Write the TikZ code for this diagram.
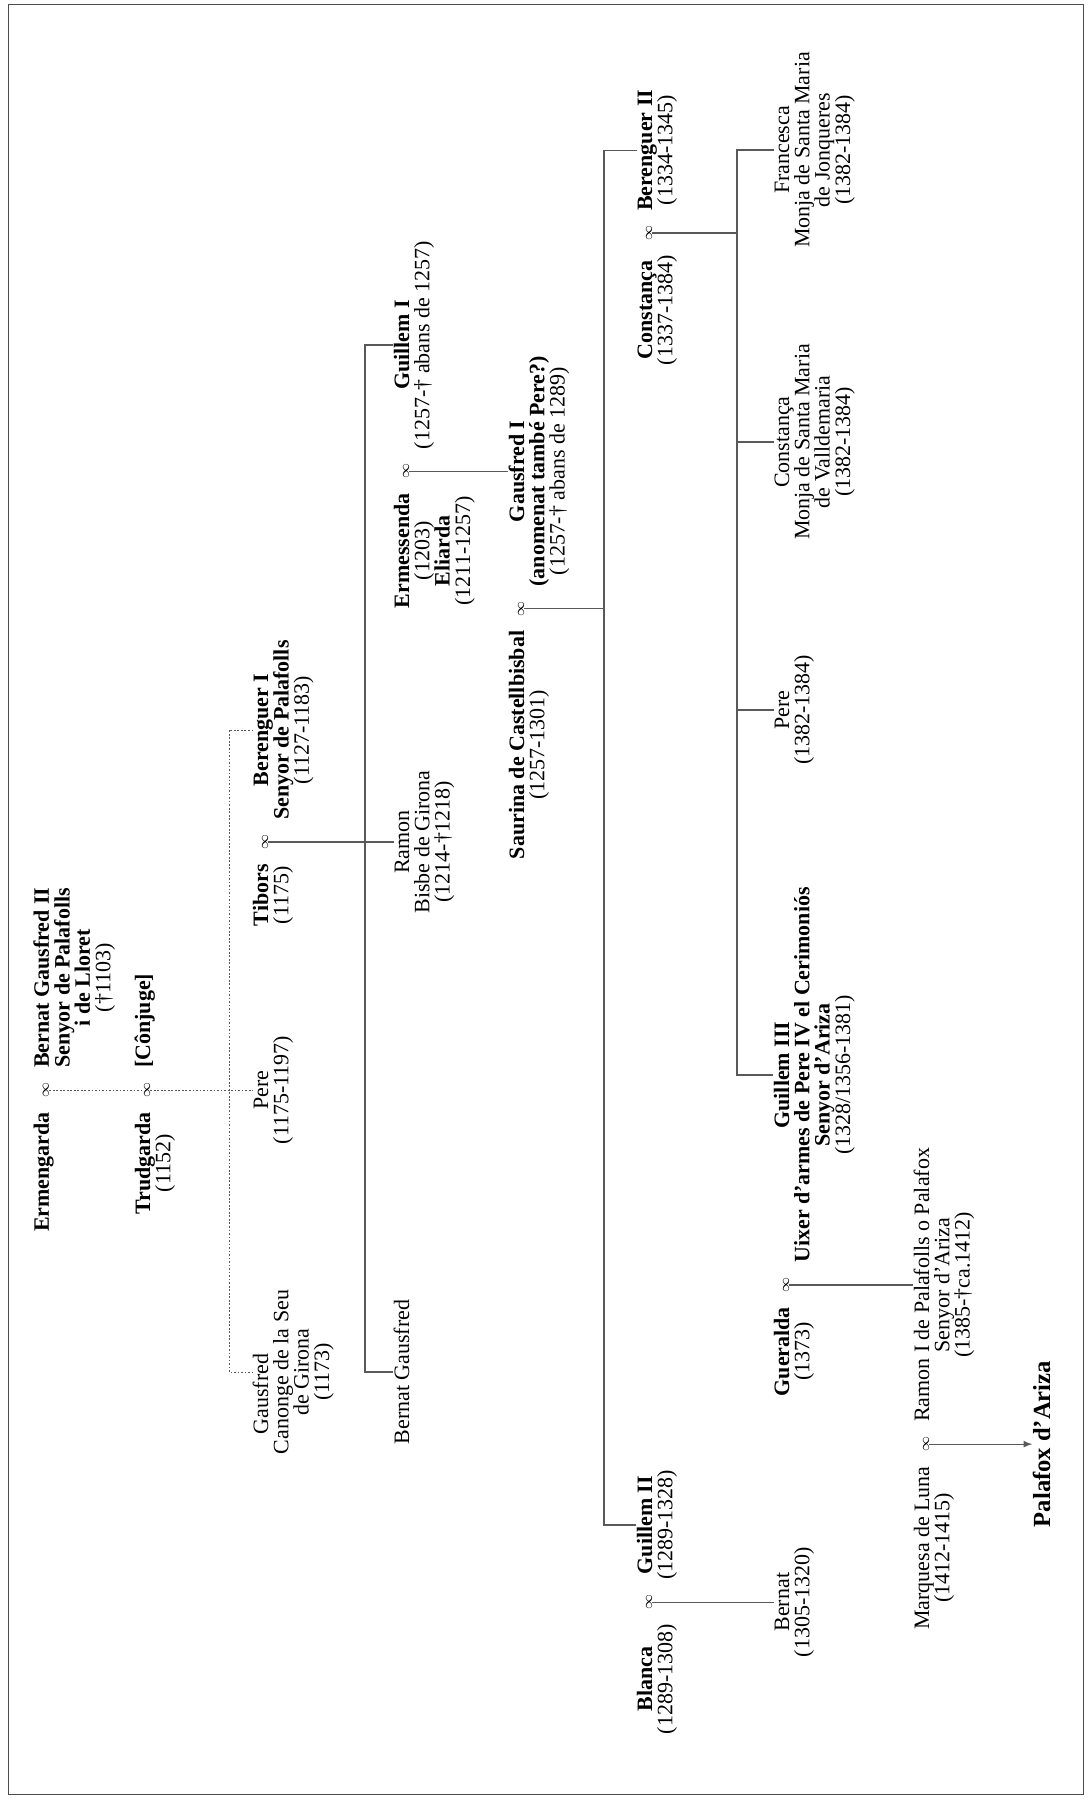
\documentclass[tikz,border=0pt]{standalone}
\usepackage{fontspec}
\setmainfont{Liberation Serif}
\newcommand{\blk}[1]{\begin{tabular}[t]{@{}c@{}}#1\end{tabular}}
\renewcommand{\arraystretch}{0.85}
\begin{document}
\begin{tikzpicture}[x=0.2mm,y=-0.2mm,
  nm/.style={rotate=90,inner xsep=3pt,inner ysep=0pt,font=\fontsize{12.5}{11.4}\selectfont},
  mar/.style={rotate=90,anchor=base,inner xsep=5pt,inner ysep=0pt,font=\fontsize{8}{9}\selectfont},
  ln/.style={black!65,line width=0.7pt},
  dl/.style={black!65,line width=0.5pt,dash pattern=on 1pt off 1pt}]
  \useasboundingbox (0,0) rectangle (1089,1800);
  \draw[black!70,line width=0.5pt] (8,4) rectangle (1083,1794);
  \coordinate (rowB) at (150,0);
  \coordinate (rowC) at (268,0);
  \coordinate (rowD) at (409,0);
  \coordinate (rowE) at (524,0);
  \coordinate (rowG) at (789,0);
  \coordinate (rowH) at (929,0);
  \coordinate (rowI) at (1050,0);
  \coordinate (brC) at (229,0);
  \coordinate (brD) at (365,0);
  \coordinate (brE) at (604,0);
  \coordinate (brF) at (737,0);

  \node (m1) at (49,1090) [mar] {$\infty$};
  \node (bg2) at (m1.base east) [nm,anchor=base west] {\blk{\textbf{Bernat Gausfred II}\\\textbf{Senyor de Palafolls}\\\textbf{i de Lloret}\\(†1103)}};
  \node (erm) at (m1.base west) [nm,anchor=base east] {\textbf{Ermengarda}};

  \node (m2) at (m1.base -| rowB) [mar] {$\infty$};
  \node (cnj) at (m2.base east) [nm,anchor=base west] {\textbf{[Cônjuge]}};
  \node (trud) at (m2.base west) [nm,anchor=base east] {\blk{\textbf{Trudgarda}\\(1152)}};

  \node (pere) at (m2.base -| rowC) [nm,anchor=base] {\blk{Pere\\(1175-1197)}};
  \node (m3) at (268,842) [mar] {$\infty$};
  \node (ber1) at (m3.base east) [nm,anchor=base west] {\blk{\textbf{Berenguer I}\\\textbf{Senyor de Palafolls}\\(1127-1183)}};
  \node (tib) at (m3.base west) [nm,anchor=base east] {\blk{\textbf{Tibors}\\(1175)}};
  \node (gsf) at (268,1372) [nm,anchor=base] {\blk{Gausfred\hspace*{2em}\\Canonge de la Seu\\de Girona\\(1173)}};

  \node (ram) at (m3.base -| rowD) [nm,anchor=base] {\blk{Ramon\\Bisbe de Girona\\(1214-†1218)}};
  \node (gui1) at (409,345) [nm,anchor=base] {\blk{\textbf{Guillem I}\\(1257-† abans de 1257)}};
  \node (m4) at (gui1.base west) [mar,anchor=base east] {$\infty$};
  \node (ermes) at (m4.base west) [nm,anchor=base east] {\blk{\textbf{Ermessenda}\\(1203)\\\textbf{Eliarda}\\(1211-1257)}};
  \node (bgf) at (409,1372) [nm,anchor=base] {Bernat Gausfred};

  \node (gf1) at (m4.base -| rowE) [nm,anchor=base] {\blk{\textbf{Gausfred I}\\\textbf{(anomenat també Pere?)}\\(1257-† abans de 1289)}};
  \node (m5) at (gf1.base west) [mar,anchor=base east] {$\infty$};
  \node (sau) at (m5.base west) [nm,anchor=base east] {\blk{\textbf{Saurina de Castellbisbal}\\(1257-1301)}};

  \node (m6) at (652,233) [mar] {$\infty$};
  \node (ber2) at (m6.base east) [nm,anchor=base west] {\blk{\textbf{Berenguer II}\\(1334-1345)}};
  \node (cst) at (m6.base west) [nm,anchor=base east] {\blk{\textbf{Constança}\\(1337-1384)}};
  \node (gui2) at (652,1525) [nm,anchor=base] {\blk{\textbf{Guillem II}\\(1289-1328)}};
  \node (m7) at (gui2.base west) [mar,anchor=base east] {$\infty$};
  \node (bla) at (m7.base west) [nm,anchor=base east] {\blk{\textbf{Blanca}\\(1289-1308)}};

  \node (fra) at (789,150) [nm,anchor=base] {\blk{Francesca\\Monja de Santa Maria\\de Jonqueres\\(1382-1384)}};
  \node (cst2) at (789,442) [nm,anchor=base] {\blk{Constança\\Monja de Santa Maria\\de Valldemaria\\(1382-1384)}};
  \node (pere2) at (789,710) [nm,anchor=base] {\blk{Pere\\(1382-1384)}};
  \node (gui3) at (789,1075) [nm,anchor=base] {\blk{\textbf{Guillem III}\\\textbf{Uixer d’armes de Pere IV el Cerimoniós}\\\textbf{Senyor d’Ariza}\\(1328/1356-1381)}};
  \node (m8) at (gui3.base west) [mar,anchor=base east] {$\infty$};
  \node (ger) at (m8.base west) [nm,anchor=base east] {\blk{\textbf{Gueralda}\\(1373)}};
  \node (bern) at (m7.base -| rowG) [nm,anchor=base] {\blk{Bernat\\(1305-1320)}};

  \node (ram1) at (m8.base -| rowH) [nm,anchor=base] {\blk{Ramon I de Palafolls o Palafox\\Senyor d’Ariza\\(1385-†ca.1412)}};
  \node (m9) at (ram1.base west) [mar,anchor=base east] {$\infty$};
  \node (marq) at (m9.base west) [nm,anchor=base east] {\blk{Marquesa de Luna\\(1412-1415)}};
  \node (pal) at (m9.base -| rowI) [nm,anchor=base,font=\fontsize{14}{16}\selectfont\bfseries] {Palafox d’Ariza};

  \draw[dl] (m1.south) -- (m2.north);
  \draw[dl] (m2.south) -- (pere.north);
  \draw[dl] (ber1.north) -- (ber1.north -| brC) -- (gsf.north -| brC) -- (gsf.north);
  \draw[ln] (m3.south) -- (ram.north);
  \draw[ln] (gui1.north) -- (gui1.north -| brD) -- (bgf.north -| brD) -- (bgf.north);
  \draw[ln] (m4.south) -- (gf1.north);
  \draw[ln] (m5.south) -- (m5.south -| brE);
  \draw[ln] (ber2.north) -- (ber2.north -| brE) -- (gui2.north -| brE) -- (gui2.north);
  \draw[ln] (m6.south) -- (m6.south -| brF);
  \draw[ln] (fra.north) -- (fra.north -| brF) -- (gui3.north -| brF) -- (gui3.north);
  \draw[ln] (cst2.north) -- (cst2.north -| brF);
  \draw[ln] (pere2.north) -- (pere2.north -| brF);
  \draw[ln] (m7.south) -- (bern.north);
  \draw[ln] (m8.south) -- (ram1.north);
  \draw[ln,-latex] (m9.south) -- (pal.north);
\end{tikzpicture}
\end{document}
